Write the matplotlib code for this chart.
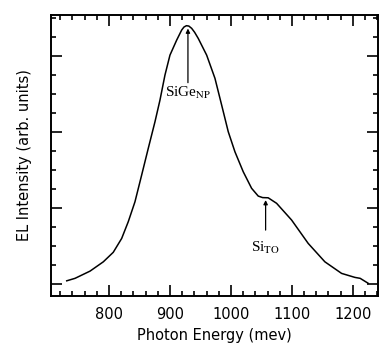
import numpy as np
from matplotlib import pyplot as plt
from matplotlib.ticker import MultipleLocator

# EL spectrum (energy in meV, intensity in arb. units)
energy = [730.7, 744.3, 768.9, 790.7, 807.0, 820.8, 831.6, 842.6, 853.6, 864.4,
          875.4, 883.6, 891.8, 900.0, 911.0, 919.2, 923.0, 927.0, 931.0, 935.6,
          940.5, 946.4, 960.2, 973.8, 984.8, 995.6, 1006.6, 1020.2, 1033.9,
          1044.8, 1052.0, 1061.1, 1074.9, 1099.5, 1126.7, 1154.1, 1181.5,
          1203.3, 1212.0, 1225.1]
intensity = [0.17, 0.30, 0.68, 1.17, 1.67, 2.40, 3.28, 4.33, 5.74, 7.14,
             8.54, 9.68, 11.0, 12.05, 12.84, 13.37, 13.53, 13.6, 13.58, 13.46,
             13.25, 12.93, 12.05, 10.83, 9.42, 8.02, 6.96, 5.91, 5.04,
             4.63, 4.55, 4.54, 4.25, 3.37, 2.14, 1.17, 0.56,
             0.35, 0.30, 0.04]

peak_labels = [r'SiGe$_{\rm NP}$', r'Si$_{\rm TO}$']
peak_x = [929.5, 1056.9]
peak_tip = [13.45, 4.42]
peak_tail = [10.6, 2.84]
label_y = [10.05, 1.9]

plt.rcParams['mathtext.fontset'] = 'stix'

fig = plt.figure(figsize=(3.84, 3.46), dpi=100)
ax = fig.add_axes([0.133, 0.1445, 0.851, 0.812])

ax.plot(energy, intensity, color='black', lw=1.1)

for lab, x, tip, tail, ty in zip(peak_labels, peak_x, peak_tip, peak_tail, label_y):
    ax.annotate('', xy=(x, tip), xytext=(x, tail),
                arrowprops=dict(arrowstyle='-|>', lw=0.9, color='black',
                                mutation_scale=6, shrinkA=0, shrinkB=0))
    ax.text(x, ty, lab, ha='center', va='center', fontsize=11,
            family='Liberation Serif')

ax.set_xlim(705, 1241)
ax.set_ylim(-0.63, 14.16)
ax.xaxis.set_major_locator(MultipleLocator(100))
ax.xaxis.set_minor_locator(MultipleLocator(20))
ax.yaxis.set_major_locator(MultipleLocator(4))
ax.yaxis.set_minor_locator(MultipleLocator(1))
ax.tick_params(which='both', direction='in', top=True, right=True, width=1.2)
ax.tick_params(which='major', length=8, labelsize=10.5, pad=8)
ax.tick_params(which='minor', length=3.5)
ax.tick_params(axis='y', labelleft=False)
for s in ax.spines.values():
    s.set_linewidth(1.4)

ax.set_xlabel('Photon Energy (mev)', fontsize=10.5, labelpad=4)
ax.set_ylabel('EL Intensity (arb. units)', fontsize=10.5, labelpad=10)

fig.savefig('out.png', dpi=100)
